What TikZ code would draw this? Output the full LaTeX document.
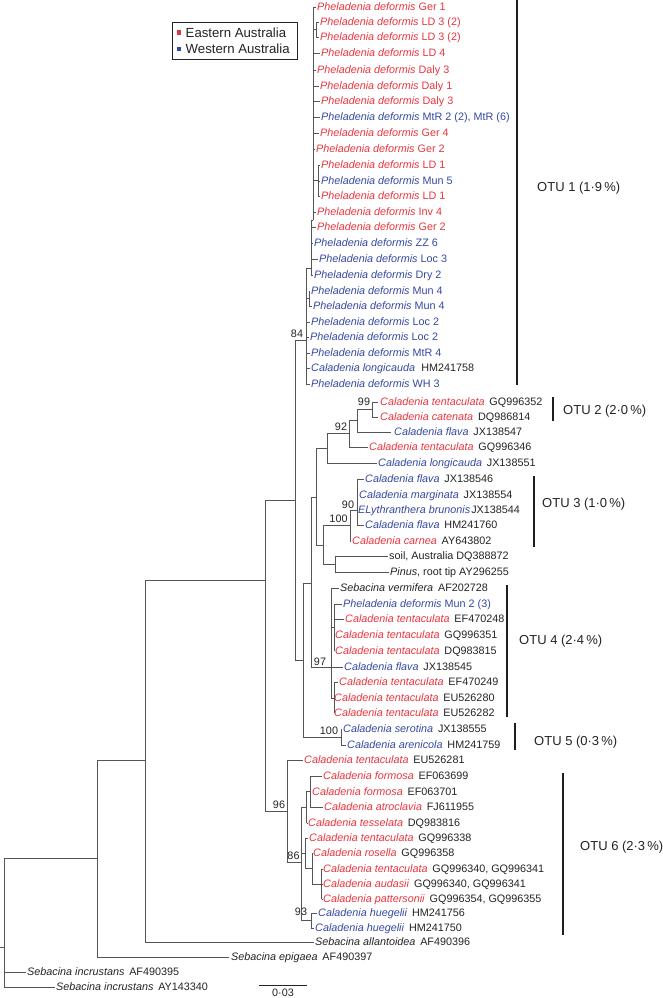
\documentclass[tikz,border=0pt]{standalone}
\usepackage{fontspec}
\setmainfont{Liberation Sans}
\definecolor{er}{RGB}{232,52,62}
\definecolor{wb}{RGB}{52,72,160}
\definecolor{txt}{RGB}{35,35,35}
\definecolor{treecol}{RGB}{85,85,85}
\definecolor{barcol}{RGB}{30,30,30}
\newcommand\fs{\fontsize{10.8}{12}\selectfont}
\newcommand\fo{\fontsize{13}{15}\selectfont}
\newcommand\fl{\fontsize{13.2}{15}\selectfont}
\newcommand\PD[1]{\textit{Pheladenia deformis} #1}
\newcommand\SA[2]{\textit{#1}\hspace{4.8pt}\textcolor{txt}{#2}}
\begin{document}
\begin{tikzpicture}[x=1pt,y=-1pt,
  lf/.style={anchor=west,inner sep=0pt,font=\fs,text height=7.7pt,text depth=0pt},
  br/.style={draw=treecol,line width=0.9pt,line cap=rect},
  lk/.style={draw=treecol,line width=0.9pt,shorten >=0.7pt},
  bs/.style={inner sep=0pt,font=\fs,text=txt,text height=7.7pt,text depth=0pt},
  obar/.style={draw=barcol,line width=2.6pt},
  olab/.style={anchor=west,inner sep=0pt,font=\fo,text=txt,text height=9.3pt,text depth=0pt}]
\useasboundingbox (0,0) rectangle (663,998);

% legend
\node[draw=txt,line width=0.8pt,minimum width=125pt,minimum height=36.5pt,inner sep=0pt] (legbox) at (234.5,41) {};
\node[fill=er,minimum size=4.5pt,inner sep=0pt] (sqE) at (179,32.5) {};
\node[fill=wb,minimum size=4.5pt,inner sep=0pt] (sqW) at (179,49) {};
\node[anchor=west,inner sep=0pt,font=\fl,text=txt,text height=9.5pt,text depth=0pt] (legE) at (185.5,32.5) {Eastern Australia};
\node[anchor=west,inner sep=0pt,font=\fl,text=txt,text height=9.5pt,text depth=0pt] (legW) at (185.5,49) {Western Australia};

% leaves OTU1
\node[lf,text=er] (l1) at (317,7) {\PD{Ger 1}};
\node[lf,text=er] (l2) at (320,22) {\PD{LD 3 (2)}};
\node[lf,text=er] (l3) at (320,37) {\PD{LD 3 (2)}};
\node[lf,text=er] (l4) at (321,53) {\PD{LD 4}};
\node[lf,text=er] (l5) at (317,70) {\PD{Daly 3}};
\node[lf,text=er] (l6) at (320,86) {\PD{Daly 1}};
\node[lf,text=er] (l7) at (321,101) {\PD{Daly 3}};
\node[lf,text=wb] (l8) at (321,117) {\PD{MtR 2 (2), MtR (6)}};
\node[lf,text=er] (l9) at (320,133) {\PD{Ger 4}};
\node[lf,text=er] (l10) at (316,149) {\PD{Ger 2}};
\node[lf,text=er] (l11) at (321,165) {\PD{LD 1}};
\node[lf,text=wb] (l12) at (321,181) {\PD{Mun 5}};
\node[lf,text=er] (l13) at (321,196) {\PD{LD 1}};
\node[lf,text=er] (l14) at (317,212) {\PD{Inv 4}};
\node[lf,text=er] (l15) at (317,227) {\PD{Ger 2}};
\node[lf,text=wb] (l16) at (314,243) {\PD{ZZ 6}};
\node[lf,text=wb] (l17) at (319,259) {\PD{Loc 3}};
\node[lf,text=wb] (l18) at (314,275) {\PD{Dry 2}};
\node[lf,text=wb] (l19) at (311,291) {\PD{Mun 4}};
\node[lf,text=wb] (l20) at (313,306) {\PD{Mun 4}};
\node[lf,text=wb] (l21) at (311,322) {\PD{Loc 2}};
\node[lf,text=wb] (l22) at (310,337) {\PD{Loc 2}};
\node[lf,text=wb] (l23) at (311,353) {\PD{MtR 4}};
\node[lf,text=wb] (l24) at (311,368) {\SA{Caladenia longicauda}{\hspace{1.5pt}HM241758}};
\node[lf,text=wb] (l25) at (311,384) {\PD{WH 3}};
% other leaves
\node[lf,text=er] (l26) at (380,402) {\SA{Caladenia tentaculata}{GQ996352}};
\node[lf,text=er] (l27) at (380,417) {\SA{Caladenia catenata}{DQ986814}};
\node[lf,text=wb] (l28) at (394,432) {\SA{Caladenia flava}{JX138547}};
\node[lf,text=er] (l29) at (369,447) {\SA{Caladenia tentaculata}{GQ996346}};
\node[lf,text=wb] (l30) at (378,463) {\SA{Caladenia longicauda}{JX138551}};
\node[lf,text=wb] (l31) at (365,479) {\SA{Caladenia flava}{JX138546}};
\node[lf,text=wb] (l32) at (359,495) {\SA{Caladenia marginata}{JX138554}};
\node[lf,text=wb] (l33) at (358,510) {\textit{ELythranthera brunonis}\hspace{1pt}\textcolor{txt}{JX138544}};
\node[lf,text=wb] (l34) at (365,525) {\SA{Caladenia flava}{HM241760}};
\node[lf,text=er] (l35) at (352,541) {\SA{Caladenia carnea}{AY643802}};
\node[lf,text=txt] (l36) at (389,556) {soil, Australia DQ388872};
\node[lf,text=txt] (l37) at (390,572) {\textit{Pinus}, root tip AY296255};
\node[lf,text=txt] (l38) at (340,588) {\SA{Sebacina vermifera}{AF202728}};
\node[lf,text=wb] (l39) at (343,604) {\PD{Mun 2 (3)}};
\node[lf,text=er] (l40) at (345,619) {\SA{Caladenia tentaculata}{EF470248}};
\node[lf,text=er] (l41) at (335,635) {\SA{Caladenia tentaculata}{GQ996351}};
\node[lf,text=er] (l42) at (335,651) {\SA{Caladenia tentaculata}{DQ983815}};
\node[lf,text=wb] (l43) at (344,667) {\SA{Caladenia flava}{JX138545}};
\node[lf,text=er] (l44) at (339,682) {\SA{Caladenia tentaculata}{EF470249}};
\node[lf,text=er] (l45) at (334,698) {\SA{Caladenia tentaculata}{EU526280}};
\node[lf,text=er] (l46) at (334,713) {\SA{Caladenia tentaculata}{EU526282}};
\node[lf,text=wb] (l47) at (343,729) {\SA{Caladenia serotina}{JX138555}};
\node[lf,text=wb] (l48) at (347,745) {\SA{Caladenia arenicola}{HM241759}};
\node[lf,text=er] (l49) at (304,760) {\SA{Caladenia tentaculata}{EU526281}};
\node[lf,text=er] (l50) at (323,776) {\SA{Caladenia formosa}{EF063699}};
\node[lf,text=er] (l51) at (312,792) {\SA{Caladenia formosa}{EF063701}};
\node[lf,text=er] (l52) at (324,807) {\SA{Caladenia atroclavia}{FJ611955}};
\node[lf,text=er] (l53) at (308,823) {\SA{Caladenia tesselata}{DQ983816}};
\node[lf,text=er] (l54) at (309,838) {\SA{Caladenia tentaculata}{GQ996338}};
\node[lf,text=er] (l55) at (313,853) {\SA{Caladenia rosella}{GQ996358}};
\node[lf,text=er] (l56) at (323,869) {\SA{Caladenia tentaculata}{GQ996340, GQ996341}};
\node[lf,text=er] (l57) at (323,884) {\SA{Caladenia audasii}{GQ996340, GQ996341}};
\node[lf,text=er] (l58) at (323,899) {\SA{Caladenia pattersonii}{GQ996354, GQ996355}};
\node[lf,text=wb] (l59) at (318,913) {\SA{Caladenia huegelii}{HM241756}};
\node[lf,text=wb] (l60) at (315,928) {\SA{Caladenia huegelii}{HM241750}};
\node[lf,text=txt] (l61) at (315,942) {\SA{Sebacina allantoidea}{AF490396}};
\node[lf,text=txt] (l62) at (231,957) {\SA{Sebacina epigaea}{AF490397}};
\node[lf,text=txt] (l63) at (27,972) {\SA{Sebacina incrustans}{AF490395}};
\node[lf,text=txt] (l64) at (56,987) {\SA{Sebacina incrustans}{AY143340}};

% root and outgroups
\draw[br] (0,947) -- (4,947);
\draw[br] (4,858) -- (4,987);
\draw[lk] (4,972) -- (l63.west);
\draw[lk] (4,987) -- (l64.west);
\draw[br] (4,858) -- (97,858);
\draw[br] (97,760) -- (97,957);
\draw[lk,shorten >=2.5pt] (97,957) -- (l62.west);
\draw[br] (97,760) -- (145,760);
\draw[br] (145,580) -- (145,942);
\draw[lk] (145,942) -- (l61.west);
\draw[br] (145,580) -- (265,580);
\draw[br] (265,500) -- (265,811);
% clade 96 (OTU6)
\draw[br] (265,811) -- (287,811);
\draw[br] (287,760) -- (287,862);
\draw[lk] (287,760) -- (l49.west);
\draw[br] (287,862) -- (301,862);
\draw[br] (301,807) -- (301,920.5);
\draw[br] (301,807) -- (306.5,807);
\draw[br] (306.5,791) -- (306.5,823);
\draw[lk] (306.5,823) -- (l53.west);
\draw[br] (306.5,791) -- (310,791);
\draw[br] (310,776) -- (310,807);
\draw[lk] (310,776) -- (l50.west);
\draw[lk] (310,792) -- (l51.west);
\draw[lk] (310,807) -- (l52.west);
\draw[br] (301,853) -- (305,853);
\draw[br] (305,838) -- (305,868.5);
\draw[lk] (305,838) -- (l54.west);
\draw[br] (305,868.5) -- (312,868.5);
\draw[br] (312,853) -- (312,884);
\draw[lk] (312,853) -- (l55.west);
\draw[br] (312,884) -- (321.7,884);
\draw[br] (321.7,869) -- (321.7,899);
\draw[lk] (321.7,869) -- (l56.west);
\draw[lk] (321.7,884) -- (l57.west);
\draw[lk] (321.7,899) -- (l58.west);
\draw[br] (301,920.5) -- (311,920.5);
\draw[br] (311,913) -- (311,928);
\draw[lk] (311,913) -- (l59.west);
\draw[lk] (311,928) -- (l60.west);
% node A
\draw[br] (265,500) -- (295,500);
\draw[br] (295,340) -- (295,660);
% OTU1
\draw[br] (295,340) -- (306,340);
\draw[br] (306,268) -- (306,384);
\draw[lk] (306,322) -- (l21.west);
\draw[lk] (306,337) -- (l22.west);
\draw[lk] (306,353) -- (l23.west);
\draw[lk] (306,368) -- (l24.west);
\draw[lk] (306,384) -- (l25.west);
\draw[br] (306,298.5) -- (309,298.5);
\draw[br] (309,291) -- (309,306);
\draw[lk] (309,291) -- (l19.west);
\draw[lk] (309,306) -- (l20.west);
\draw[br] (306,268) -- (311,268);
\draw[br] (311,220) -- (311,275);
\draw[lk] (311,227) -- (l15.west);
\draw[lk] (311,243) -- (l16.west);
\draw[lk] (311,259) -- (l17.west);
\draw[lk] (311,275) -- (l18.west);
\draw[br] (311,220) -- (313,220);
\draw[br] (313,7) -- (313,220);
\draw[lk] (313,7) -- (l1.west);
\draw[br] (313,29.5) -- (316,29.5);
\draw[br] (316,22) -- (316,37);
\draw[lk] (316,22) -- (l2.west);
\draw[lk] (316,37) -- (l3.west);
\draw[lk] (313,53) -- (l4.west);
\draw[lk] (313,70) -- (l5.west);
\draw[lk] (313,86) -- (l6.west);
\draw[lk] (313,101) -- (l7.west);
\draw[lk] (313,117) -- (l8.west);
\draw[lk] (313,133) -- (l9.west);
\draw[lk] (313,149) -- (l10.west);
\draw[br] (313,180.5) -- (318,180.5);
\draw[br] (318,165) -- (318,196);
\draw[lk] (318,165) -- (l11.west);
\draw[lk] (318,181) -- (l12.west);
\draw[lk] (318,196) -- (l13.west);
\draw[lk] (313,212) -- (l14.west);
% node B
\draw[br] (295,660) -- (303,660);
\draw[br] (303,583) -- (303,737);
% OTU5
\draw[br] (303,737) -- (341,737);
\draw[br] (341,729) -- (341,745);
\draw[lk] (341,729) -- (l47.west);
\draw[lk] (341,745) -- (l48.west);
% node C
\draw[br] (303,583) -- (311,583);
\draw[br] (311,497) -- (311,667);
% OTU4
\draw[br] (311,667) -- (331,667);
\draw[br] (331,588) -- (331,698);
\draw[lk] (331,588) -- (l38.west);
\draw[lk] (331,667) -- (l43.west);
\draw[br] (331,627) -- (334,627);
\draw[br] (334,604) -- (334,651);
\draw[lk] (334,604) -- (l39.west);
\draw[lk] (334,619) -- (l40.west);
\draw[br] (331,698) -- (334,698);
\draw[br] (334,682) -- (334,713);
\draw[lk] (334,682) -- (l44.west);
% node D
\draw[br] (311,497) -- (316,497);
\draw[br] (316,448) -- (316,545);
\draw[br] (316,545) -- (323,545);
\draw[br] (323,525) -- (323,564);
\draw[br] (323,564) -- (335,564);
\draw[br] (335,556) -- (335,572);
\draw[lk] (335,556) -- (l36.west);
\draw[lk] (335,572) -- (l37.west);
% OTU3
\draw[br] (323,525) -- (350,525);
\draw[br] (350,510) -- (350,541);
\draw[lk] (350,541) -- (l35.west);
\draw[br] (350,510) -- (357,510);
\draw[br] (357,479) -- (357,525);
\draw[lk] (357,479) -- (l31.west);
\draw[lk] (357,495) -- (l32.west);
\draw[lk] (357,525) -- (l34.west);
% node E and OTU2
\draw[br] (316,448) -- (327,448);
\draw[br] (327,433) -- (327,463);
\draw[lk] (327,463) -- (l30.west);
\draw[br] (327,433) -- (349,433);
\draw[br] (349,420) -- (349,447);
\draw[lk] (349,447) -- (l29.west);
\draw[br] (349,420) -- (357,420);
\draw[br] (357,409) -- (357,432);
\draw[lk,shorten >=3pt] (357,432) -- (l28.west);
\draw[br] (357,409) -- (372,409);
\draw[br] (372,402) -- (372,417);
\draw[lk,shorten >=2pt] (372,402) -- (l26.west);
\draw[lk,shorten >=2pt] (372,417) -- (l27.west);

% bootstrap values
\node[bs] (b84) at (297,334) {84};
\node[bs] (b99) at (364,402) {99};
\node[bs] (b92) at (341,427) {92};
\node[bs] (b90) at (348,505) {90};
\node[bs] (b100a) at (338.5,519) {100};
\node[bs] (b97) at (320,662) {97};
\node[bs] (b100b) at (329,731) {100};
\node[bs] (b96) at (279,805) {96};
\node[bs] (b86) at (293.5,856) {86};
\node[bs] (b93) at (301,912) {93};

% OTU bars
\coordinate (o1a) at (517,0); \coordinate (o1b) at (517,385);
\draw[obar] (o1a) -- (o1b);
\node[olab] (t1) at (537,187) {OTU 1 (1·9\,\%)};
\coordinate (o2a) at (553,397); \coordinate (o2b) at (553,421);
\draw[obar] (o2a) -- (o2b);
\node[olab] (t2) at (563,410) {OTU 2 (2·0\,\%)};
\coordinate (o3a) at (534,476); \coordinate (o3b) at (534,547);
\draw[obar] (o3a) -- (o3b);
\node[olab] (t3) at (542,503) {OTU 3 (1·0\,\%)};
\coordinate (o4a) at (507,585); \coordinate (o4b) at (507,717);
\draw[obar] (o4a) -- (o4b);
\node[olab] (t4) at (519,640) {OTU 4 (2·4\,\%)};
\coordinate (o5a) at (515,723); \coordinate (o5b) at (515,750);
\draw[obar] (o5a) -- (o5b);
\node[olab] (t5) at (534,741) {OTU 5 (0·3\,\%)};
\coordinate (o6a) at (563,773); \coordinate (o6b) at (563,935);
\draw[obar] (o6a) -- (o6b);
\node[olab] (t6) at (580,846) {OTU 6 (2·3\,\%)};

% scale bar
\coordinate (sa) at (259,985); \coordinate (sb) at (307,985);
\draw[draw=txt,line width=0.9pt] (sa) -- (sb);
\node[bs] (sl) at (283,992.3) {0·03};
\end{tikzpicture}
\end{document}
